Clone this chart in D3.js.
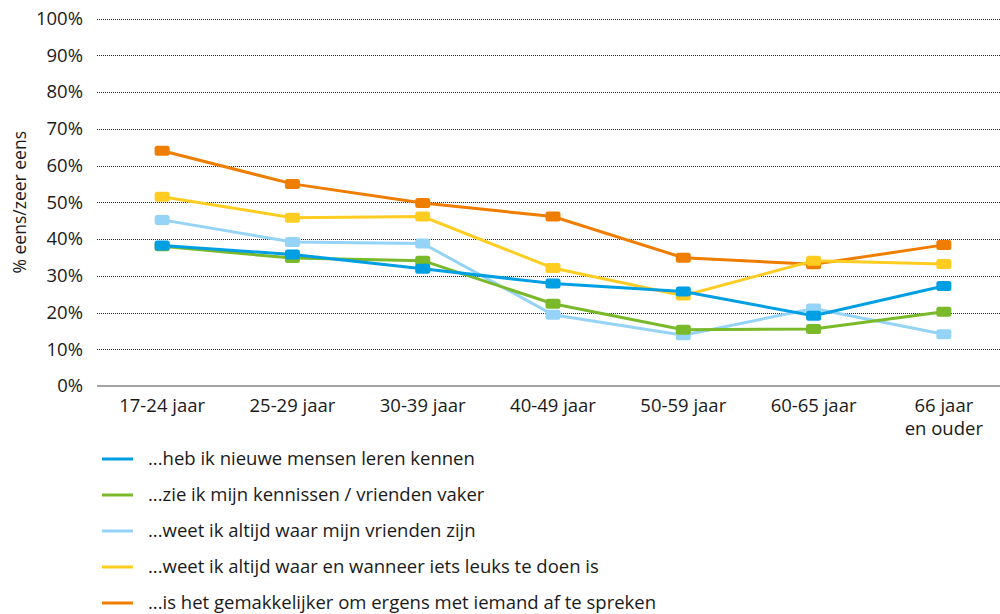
<!DOCTYPE html>
<html>
<head>
<meta charset="utf-8">
<script src="https://cdn.jsdelivr.net/npm/d3@7"></script>
<style>
  body { margin: 0; background: #fff; }
  svg { display: block; font-family: "Open Sans", sans-serif; }
  .grid line { stroke: #222; stroke-width: 1; stroke-dasharray: 1,1; }
  .tick-label { font-size: 18.5px; fill: #1a1a1a; }
  .x-label { font-size: 18.5px; fill: #1a1a1a; }
  .axis-title { font-size: 17.5px; fill: #1a1a1a; }
  .legend-label { font-size: 18.5px; fill: #1a1a1a; }
</style>
</head>
<body>
<svg id="chart"></svg>
<script>
// age groups on the x axis (multi-line labels split on \n)
const categories = ["17-24 jaar", "25-29 jaar", "30-39 jaar", "40-49 jaar", "50-59 jaar", "60-65 jaar", "66 jaar\nen ouder"]
const yTicks = [0, 10, 20, 30, 40, 50, 60, 70, 80, 90, 100]

const seriesNames = [
    "...heb ik nieuwe mensen leren kennen",
    "...zie ik mijn kennissen / vrienden vaker",
    "...weet ik altijd waar mijn vrienden zijn",
    "...weet ik altijd waar en wanneer iets leuks te doen is",
    "...is het gemakkelijker om ergens met iemand af te spreken"
]
const seriesColors = ["#009fe3", "#7ab929", "#95d4f6", "#ffcd22", "#ef7d00"]

const nieuweMensen = [38.2, 35.8, 31.9, 27.9, 25.7, 19.1, 27.2]
const vriendenVaker = [38.0, 34.8, 34.1, 22.4, 15.3, 15.5, 20.2]
const waarVrienden = [45.2, 39.2, 38.8, 19.4, 13.8, 21.1, 14.1]
const ietsLeuks = [51.5, 45.8, 46.1, 32.1, 24.6, 34.1, 33.2]
const afspreken = [64.0, 55.0, 49.8, 46.1, 34.9, 33.1, 38.4]
const seriesValues = [nieuweMensen, vriendenVaker, waarVrienden, ietsLeuks, afspreken]

const width = 1000, height = 614
const plot = { left: 97, right: 1009, top: 18.5, bottom: 386 }

const svg = d3.select("#chart").attr("width", width).attr("height", height)

const x = d3.scalePoint()
    .domain(categories)
    .range([plot.left, plot.right])
    .padding(0.5)
const y = d3.scaleLinear()
    .domain([0, 100])
    .range([plot.bottom, plot.top])

// dotted gridlines
svg.append("g").attr("class", "grid")
    .selectAll("line").data(yTicks.filter(d => d > 0)).enter().append("line")
    .attr("x1", plot.left).attr("x2", width)
    .attr("y1", d => Math.round(y(d)) + 0.5).attr("y2", d => Math.round(y(d)) + 0.5)

// baseline
svg.append("line")
    .attr("x1", plot.left).attr("x2", width)
    .attr("y1", y(0)).attr("y2", y(0))
    .attr("stroke", "#a3a3a3").attr("stroke-width", 2)

// y tick labels
svg.append("g").selectAll("text").data(yTicks).enter().append("text")
    .attr("class", "tick-label")
    .attr("x", 83)
    .attr("y", d => y(d))
    .attr("dy", "0.35em")
    .attr("text-anchor", "end")
    .text(d => d + "%")

// y axis title
svg.append("text")
    .attr("class", "axis-title")
    .attr("transform", `translate(26,${y(50)}) rotate(-90)`)
    .attr("text-anchor", "middle")
    .text("% eens/zeer eens")

// x labels
const xLab = svg.append("g").selectAll("text").data(categories).enter().append("text")
    .attr("class", "x-label")
    .attr("x", d => x(d))
    .attr("y", 412)
    .attr("text-anchor", "middle")
xLab.selectAll("tspan").data(d => d.split("\n")).enter().append("tspan")
    .attr("x", function () { return d3.select(this.parentNode).attr("x") })
    .attr("dy", (d, i) => i == 0 ? 0 : 23)
    .text(d => d)

// lines + markers, drawn last-first so the first series sits on top
const line = d3.line()
    .x((d, i) => x(categories[i]))
    .y(d => y(d))
const order = d3.range(seriesValues.length).reverse()
for (let s of order) {
    const g = svg.append("g")
    g.append("path")
        .datum(seriesValues[s])
        .attr("d", line)
        .attr("fill", "none")
        .attr("stroke", seriesColors[s])
        .attr("stroke-width", 3)
    g.selectAll("rect").data(seriesValues[s]).enter().append("rect")
        .attr("x", (d, i) => x(categories[i]) - 7.5)
        .attr("y", d => y(d) - 5)
        .attr("width", 15)
        .attr("height", 10)
        .attr("rx", 2.5)
        .attr("fill", seriesColors[s])
}

// legend
const legend = svg.append("g").selectAll("g").data(seriesNames).enter().append("g")
    .attr("transform", (d, i) => `translate(102,${459 + i * 36})`)
legend.append("line")
    .attr("x1", 0).attr("x2", 31)
    .attr("stroke", (d, i) => seriesColors[i])
    .attr("stroke-width", 3)
legend.append("text")
    .attr("class", "legend-label")
    .attr("x", 46)
    .attr("dy", "0.35em")
    .text(d => d)
</script>
</body>
</html>
